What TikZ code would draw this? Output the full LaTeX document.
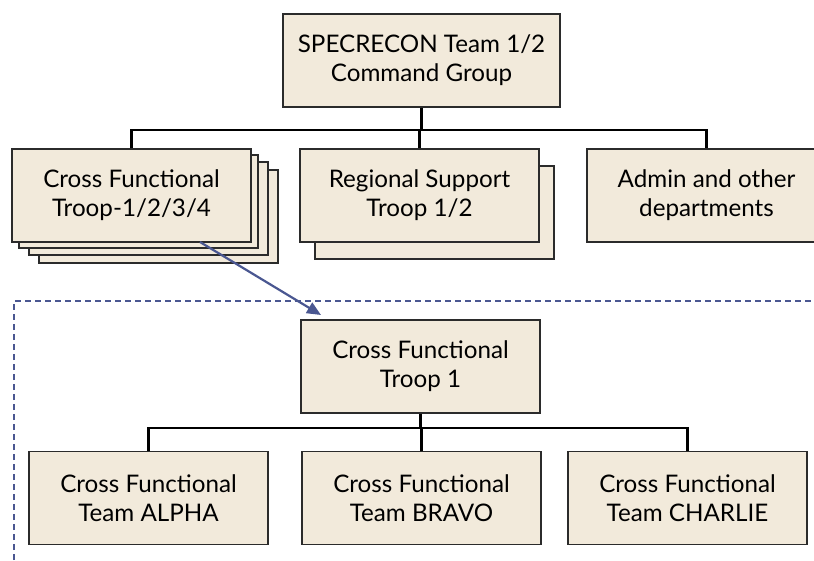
\documentclass[tikz,border=0pt]{standalone}
\usepackage{fontspec}
\setmainfont{Lato}
\usetikzlibrary{arrows.meta}
\definecolor{boxfill}{HTML}{F2EADB}
\definecolor{boxline}{HTML}{2B2B2B}
\definecolor{slate}{HTML}{4A5791}
\begin{document}
\begin{tikzpicture}[x=1pt,y=-1pt,
  orgbox/.style={draw=boxline,fill=boxfill,line width=1.3pt,minimum width=239pt,minimum height=93pt,
    inner sep=0pt,align=center,font=\fontsize{24.2}{29}\selectfont},
  shadowbox/.style={draw=boxline,fill=boxfill,line width=1.3pt,minimum width=239pt,minimum height=93pt,inner sep=0pt},
  tree/.style={draw=black,line width=2.4pt},
  pointer/.style={draw=slate,line width=2.2pt,-{Triangle[length=14pt,width=12pt]}},
  frame/.style={draw=slate,line width=1.6pt,dash pattern=on 6pt off 4pt}]
\useasboundingbox (0,0) rectangle (814,561);
\begin{scope}
\clip (0,0) rectangle (814,561);
% dashed frame
\draw[frame] (14,580) -- (14,301) -- (840,301);
% top
\node[orgbox,minimum width=277pt] (cmd) at (421.5,60.5) {SPECRECON Team 1/2\\Command Group};
% cross functional stack
\node[shadowbox] (cf3) at (158.5,216.5) {};
\node[shadowbox] (cf2) at (148.5,208.5) {};
\node[shadowbox] (cf1) at (138.5,201.5) {};
\node[orgbox] (cf) at (131.5,195.5) {Cross Functional\\Troop-1/2/3/4};
% regional
\node[shadowbox] (rs1) at (434.5,212.5) {};
\node[orgbox] (rs) at (419.5,195.5) {Regional Support\\Troop 1/2};
% admin
\node[orgbox] (adm) at (706.5,195.5) {Admin and other\\departments};
% troop 1
\node[orgbox] (t1) at (420.5,366.5) {Cross Functional\\Troop 1};
\node[orgbox] (ta) at (148.5,498) {Cross Functional\\Team ALPHA};
\node[orgbox] (tb) at (421.5,498) {Cross Functional\\Team BRAVO};
\node[orgbox] (tc) at (687.5,498) {Cross Functional\\Team CHARLIE};
% tree lines
\coordinate (bus1) at (0,130);
\coordinate (bus2) at (0,428);
\draw[tree] (cmd.south) -- (cmd.south |- bus1);
\draw[tree] (cf.north) -- (cf.north |- bus1) -- (adm.north |- bus1) -- (adm.north);
\draw[tree] (rs.north) -- (rs.north |- bus1);
\draw[tree] (t1.south) -- (t1.south |- bus2);
\draw[tree] (ta.north) -- (ta.north |- bus2) -- (tc.north |- bus2) -- (tc.north);
\draw[tree] (tb.north) -- (tb.north |- bus2);
% pointer
\coordinate (ptrS) at (200,242);
\coordinate (ptrE) at (321,315);
\draw[pointer] (ptrS) -- (ptrE);
\end{scope}
\end{tikzpicture}
\end{document}
